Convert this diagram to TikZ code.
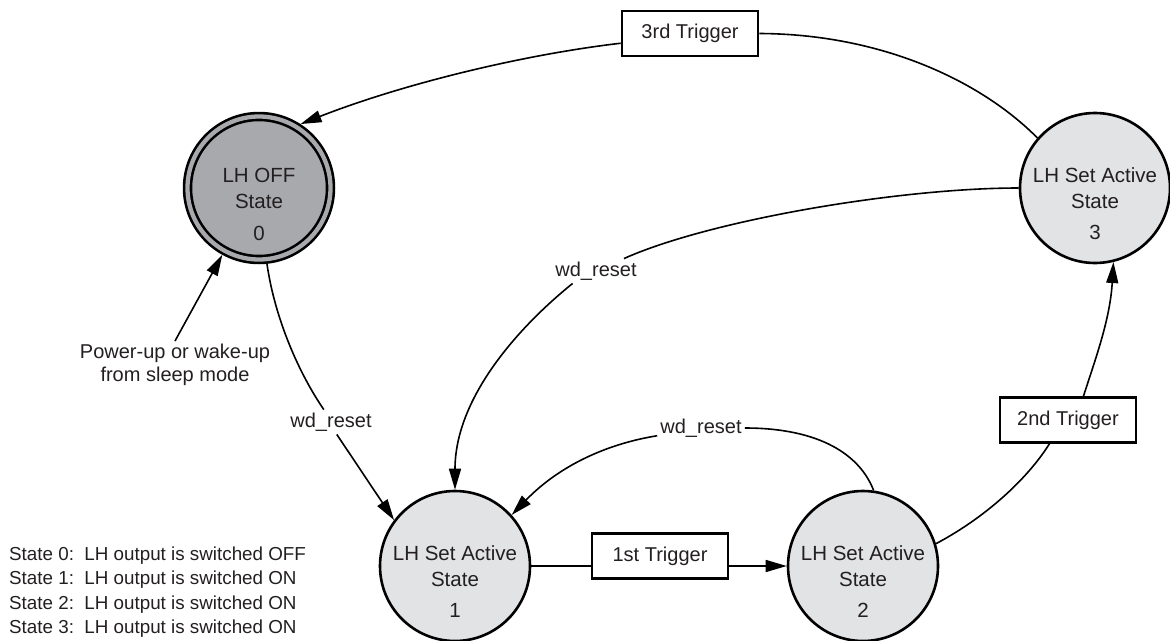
\documentclass[tikz,border=0pt]{standalone}
\usepackage{fontspec}
\setmainfont{Liberation Sans}
\usetikzlibrary{arrows.meta}
\definecolor{txt}{HTML}{231F20}
\definecolor{offgray}{HTML}{A7A9AC}
\definecolor{actgray}{HTML}{E2E3E5}
\newcommand\circfont{\fontsize{20.5pt}{26pt}\selectfont}
\newcommand\lblfont{\fontsize{20pt}{23pt}\selectfont}
\newcommand\legfont{\fontsize{18.8pt}{24.5pt}\selectfont}
\tikzset{
  state/.style={circle, draw=black, line width=2.6pt, minimum size=150pt, inner sep=0pt,
    outer sep=1.3pt, fill=actgray, text=txt, align=center, font=\circfont},
  offstate/.style={state, fill=offgray, double=offgray, double distance=4.3pt,
    minimum size=143pt, outer sep=4.75pt},
  num/.style={text=txt, font=\circfont, inner sep=0pt},
  trig/.style={draw=black, line width=2.6pt, fill=white, minimum width=136pt,
    minimum height=45pt, inner sep=0pt, text=txt, font=\lblfont},
  lbl/.style={text=txt, font=\lblfont, inner sep=3pt, align=center},
  conn/.style={line width=1.6pt, draw=black},
  arr/.style={conn, -{Triangle[length=21pt,width=12pt]}}
}
\begin{document}
\begin{tikzpicture}[x=1pt, y=-1pt]
\useasboundingbox (0,0) rectangle (1170,640);
% states
\node[offstate] (s0) at (259,188) {LH OFF\\State};
\node[state] (s3) at (1095,188) {LH Set Active\\State};
\node[state] (s1) at (455,566) {LH Set Active\\State};
\node[state] (s2) at (863,566) {LH Set Active\\State};
\node[num] (n0) at ([yshift=-45pt]s0.center) {0};
\node[num] (n3) at ([yshift=-44pt]s3.center) {3};
\node[num] (n1) at ([yshift=-44pt]s1.center) {1};
\node[num] (n2) at ([yshift=-44pt]s2.center) {2};
% trigger boxes
\node[trig] (t3) at (690,33.5) {3rd Trigger};
\node[trig] (t1) at (660,556) {1st Trigger};
\node[trig] (t2) at (1068,420) {2nd Trigger};
% labels
\node[lbl] (w1) at (331,422) {wd\_reset};
\node[lbl] (w2) at (596,271) {wd\_reset};
\node[lbl] (w3) at (701,428) {wd\_reset};
\node[lbl] (pu) at (175,365) {Power-up or wake-up\\from sleep mode};
% legend
\node[anchor=north west, align=left, inner sep=0pt, text=txt, font=\legfont] (leg) at (9,546.5)
  {State 0:\hspace{0.556em}LH output is switched OFF\\
   State 1:\hspace{0.556em}LH output is switched ON\\
   State 2:\hspace{0.556em}LH output is switched ON\\
   State 3:\hspace{0.556em}LH output is switched ON};
% 3rd trigger
\draw[conn] (s3.139) .. controls (980,80) and (880,34) .. (t3.east);
\draw[arr] (t3.188) .. controls (520,55) and (400,85) .. (s0.57);
% big wd_reset
\draw[conn] (s3.180) .. controls (900,188) and (710,220) .. (w2.24);
\draw[arr] (w2.208) .. controls (515,330) and (455,400) .. (s1.north);
% small wd_reset
\draw[conn] (s2.82) .. controls (860,455) and (820,428) .. (w3.east);
\draw[arr] (w3.190) .. controls (600,445) and (555,470) .. (s1.42);
% wd_reset from state 0
\draw[conn] (s0.-84) .. controls (275,320) and (300,375) .. (w1.120);
\draw[arr] (w1.-65) -- (s1.143);
% 1st trigger
\draw[conn] (s1) -- (s1 -| t1.west);
\draw[arr] (t1.east |- s2) -- (s2);
% 2nd trigger
\draw[conn] (s2.17) .. controls (990,515) and (1030,475) .. (t2.232);
\draw[arr] (t2.57) .. controls (1095,360) and (1110,320) .. (s3.-76);
% power-up
\draw[arr] (pu.north) -- (s0);
\end{tikzpicture}
\end{document}
